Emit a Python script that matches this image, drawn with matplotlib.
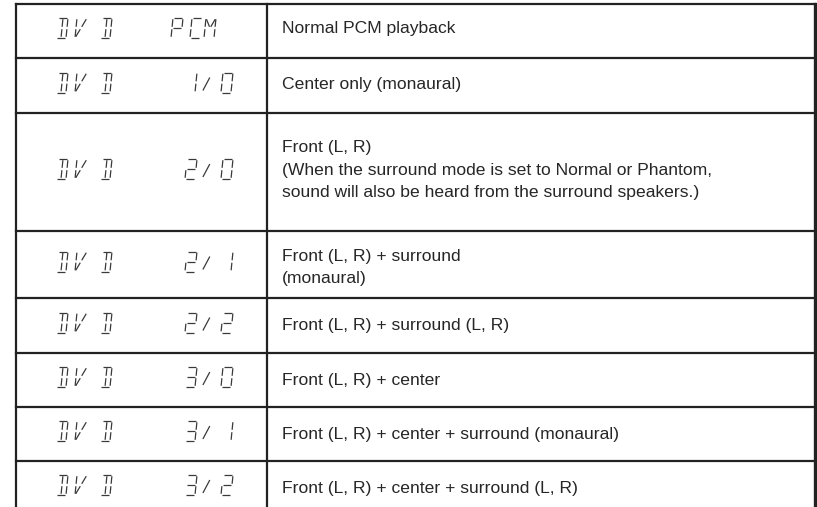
import matplotlib
matplotlib.use("Agg")
import matplotlib.pyplot as plt

# table content
codes = ["PCM", "1/0", "2/0", "2/1", "2/2", "3/0", "3/1", "3/2"]
descriptions = [
    "Normal PCM playback",
    "Center only (monaural)",
    "Front (L, R)\n(When the surround mode is set to Normal or Phantom,\nsound will also be heard from the surround speakers.)",
    "Front (L, R) + surround\n(monaural)",
    "Front (L, R) + surround (L, R)",
    "Front (L, R) + center",
    "Front (L, R) + center + surround (monaural)",
    "Front (L, R) + center + surround (L, R)",
]
source = "DVD"

# row boundaries (pixels, top down) - last row runs off the page
row_edges = [4, 58, 113, 231, 298, 353, 407, 461, 515]
text_shift = [-2, -1, -2, 3, 0, 0, 0, 0]

# segment definitions in a unit cell (x right, y up)
SEG = {
    "a": ((0, 1), (1, 1)), "b": ((1, 1), (1, 0.5)), "c": ((1, 0.5), (1, 0)),
    "d": ((0, 0), (1, 0)), "e": ((0, 0), (0, 0.5)), "f": ((0, 0.5), (0, 1)),
    "g": ((0, 0.5), (1, 0.5)),
    "i": ((0.5, 1), (0.5, 0.5)), "l": ((0.5, 0.5), (0.5, 0)),
    "h": ((0, 1), (0.5, 0.5)), "j": ((1, 1), (0.5, 0.5)),
    "n": ((0, 0), (0.5, 0.5)), "k": ((0.5, 0.5), (1, 1)),
    "s": ((0.1, 0.1), (0.9, 0.75)),
}
GLYPHS = {
    "D": "abcdil", "V": "efnk", "P": "abefg", "C": "adef", "M": "bcefhj",
    "0": "abcdef", "1": "bc", "2": "abdeg", "3": "abcdg", "/": "s",
}

fig = plt.figure(figsize=(8.17, 5.07), dpi=100)
ax = fig.add_axes([0, 0, 1, 1])
ax.set_xlim(0, 817)
ax.set_ylim(507, 0)
ax.axis("off")


def draw_char(ch, x0, yc, w=10, h=20, slant=0.1, gap=0.12):
    for s in GLYPHS[ch]:
        (x1, y1), (x2, y2) = SEG[s]
        # shrink segment to leave the usual LCD gaps
        dx, dy = x2 - x1, y2 - y1
        x1s, y1s = x1 + dx * gap, y1 + dy * gap
        x2s, y2s = x2 - dx * gap, y2 - dy * gap
        xs, ys = [], []
        for px, py in ((x1s, y1s), (x2s, y2s)):
            xs.append(x0 + px * w + slant * py * h)
            ys.append(yc + h / 2 - py * h)
        ax.plot(xs, ys, color="#3a3a3a", lw=0.9, solid_capstyle="butt")


def draw_code(code, yc):
    for ch, x in zip(source, [56, 75, 100]):
        draw_char(ch, x, yc)
    if code == "PCM":
        xs = [171, 190, 204]
    else:
        xs = [185, 202, 221]
    for ch, x in zip(code, xs):
        if ch == "/":
            draw_char(ch, x, yc, w=7, gap=0.0)
        else:
            draw_char(ch, x, yc)


line_kw = dict(color="#222222", lw=1.6)
left, mid, right = 16, 267, 815
for y in row_edges[:-1]:
    ax.plot([left, right], [y, y], **line_kw)
for x in (left, mid):
    ax.plot([x, x], [row_edges[0], 507], **line_kw)
ax.plot([right, right], [row_edges[0], 507], color="#222222", lw=2.4)

for i, (code, desc) in enumerate(zip(codes, descriptions)):
    yc = (row_edges[i] + row_edges[i + 1]) / 2
    draw_code(code, yc - 3)
    ax.text(282, yc + text_shift[i], desc, fontsize=12.6, family="Liberation Sans",
            va="center", ha="left", color="#262626", linespacing=1.59)

fig.savefig("out.png", dpi=100)
